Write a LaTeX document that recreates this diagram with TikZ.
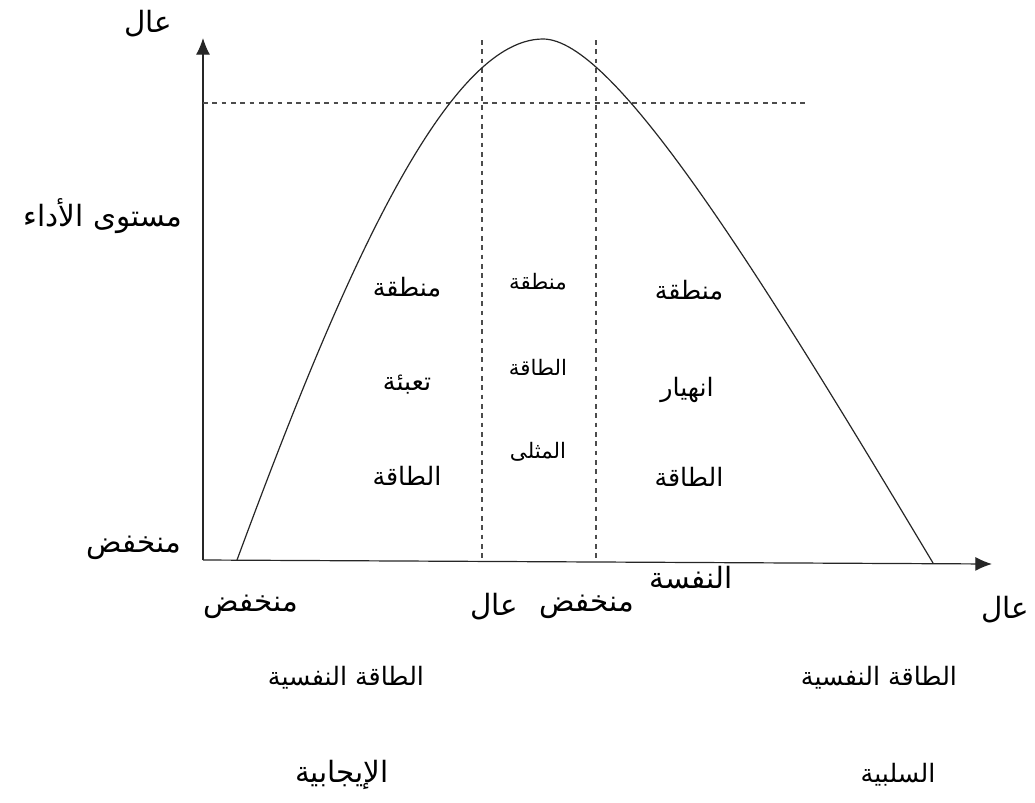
\documentclass[tikz,border=0pt]{standalone}
\usepackage{fontspec}
\usetikzlibrary{arrows.meta}
\newfontfamily\arabicfont[Script=Arabic]{DejaVu Sans}
\TeXXeTstate=1
\newcommand{\artxt}[1]{{\arabicfont\beginR #1\endR}}
\tikzset{
  axisline/.style={draw=black!85, line width=0.9pt, -{Latex[length=12.5pt,width=10.5pt]}},
  guide/.style={draw=black!70, line width=0.8pt, dash pattern=on 3.5pt off 3.5pt},
  curveline/.style={draw=black!85, line width=0.9pt},
  lbl/.style={inner sep=0pt, font=\fontsize{22}{26}\selectfont, text=black},
  lblmid/.style={inner sep=0pt, font=\fontsize{19}{23}\selectfont, text=black},
  zone/.style={inner sep=0pt, font=\fontsize{19}{23}\selectfont, text=black},
  zonesmall/.style={inner sep=0pt, font=\fontsize{16}{19}\selectfont, text=black}
}
\begin{document}
\begin{tikzpicture}[x=0.75pt,y=-0.75pt]
\useasboundingbox (0,0) rectangle (1035,803);
% axes
\coordinate (O) at (203,560);
\coordinate (Ytop) at (203,38);
\coordinate (Xend) at (992,564);
\draw[axisline] (O) -- (Ytop);
\draw[axisline] (O) -- (Xend);
% guides
\coordinate (H1) at (203,103);
\coordinate (H2) at (805,103);
\draw[guide] (H1) -- (H2);
\coordinate (V1t) at (482,40);
\coordinate (V1b) at (482,561);
\coordinate (V2t) at (596,40);
\coordinate (V2b) at (596,562);
\draw[guide] (V1t) -- (V1b);
\draw[guide] (V2t) -- (V2b);
% curve
\coordinate (C0) at (237,560);
\coordinate (Peak) at (543,39);
\coordinate (C1) at (933,563);
\draw[curveline] (C0) .. controls (329.5,310) and (440,39) .. (Peak)
                      .. controls (613,39) and (753,262) .. (C1);
% axis labels
\node[lbl] (yhigh) at (148,24) {\artxt{عال}};
\node[lbl] (ytitle) at (103,216) {\artxt{مستوى الأداء}};
\node[lbl] (ylow) at (134,548) {\artxt{منخفض}};
\node[lbl] (xlow) at (251,607) {\artxt{منخفض}};
\node[lbl] (xmidhigh) at (494,607) {\artxt{عال}};
\node[lbl] (xmidlow) at (587,607) {\artxt{منخفض}};
\node[lbl] (nafsa) at (691,578) {\artxt{النفسة}};
\node[lbl] (xhigh) at (1005,610) {\artxt{عال}};
\node[lblmid] (pos1) at (346,678) {\artxt{الطاقة النفسية}};
\node[lbl] (pos2) at (342,775) {\artxt{الإيجابية}};
\node[lblmid] (neg1) at (879,678) {\artxt{الطاقة النفسية}};
\node[lblmid] (neg2) at (898,775) {\artxt{السلبية}};
% zones
\node[zone] (z1a) at (407,287) {\artxt{منطقة}};
\node[zone] (z1b) at (407,385) {\artxt{تعبئة}};
\node[zone] (z1c) at (407,476) {\artxt{الطاقة}};
\node[zonesmall] (z2a) at (538,282) {\artxt{منطقة}};
\node[zonesmall] (z2b) at (538,367) {\artxt{الطاقة}};
\node[zonesmall] (z2c) at (538,452) {\artxt{المثلى}};
\node[zone] (z3a) at (689,290) {\artxt{منطقة}};
\node[zone] (z3b) at (687,390) {\artxt{انهيار}};
\node[zone] (z3c) at (689,477) {\artxt{الطاقة}};
\end{tikzpicture}
\end{document}
